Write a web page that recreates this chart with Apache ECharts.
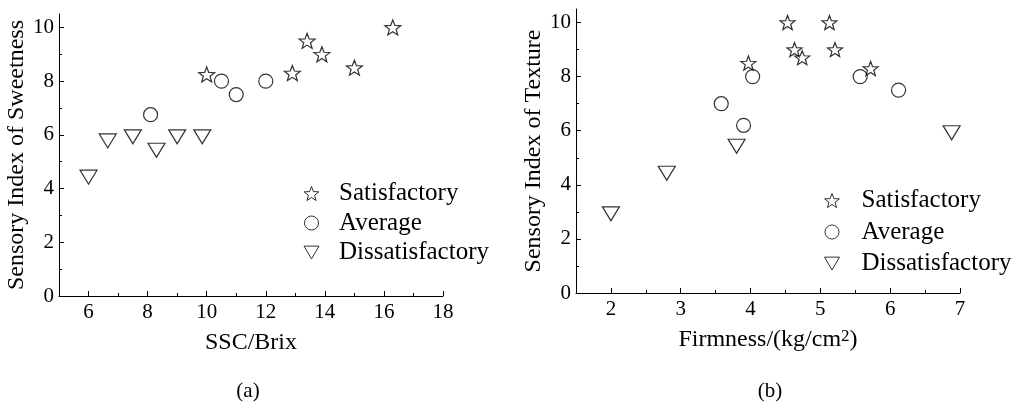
<!DOCTYPE html>
<html>
<head>
<meta charset="utf-8">
<script src="https://cdn.jsdelivr.net/npm/echarts@6/dist/echarts.min.js"></script>
<style>
  html, body { margin: 0; padding: 0; background: #fff; }
  #chart { width: 1016px; height: 402px; }
</style>
</head>
<body>
<div id="chart"></div>
<script>
// ---------- data: (a) Sweetness vs SSC ----------
const sweetSatX = [10.0, 12.9, 13.4, 13.9, 15.0, 16.3];
const sweetSatY = [8.25, 8.3, 9.5, 9.0, 8.5, 10.0];
const sweetAvgX = [8.1, 10.5, 11.0, 12.0];
const sweetAvgY = [6.75, 8.0, 7.5, 8.0];
const sweetDisX = [6.0, 6.65, 7.5, 8.3, 9.0, 9.85];
const sweetDisY = [4.5, 5.85, 6.0, 5.5, 6.0, 6.0];

// ---------- data: (b) Texture vs Firmness ----------
const texSatX = [3.97, 4.53, 4.63, 4.74, 5.13, 5.21, 5.72];
const texSatY = [8.5, 10.0, 9.0, 8.7, 10.0, 9.0, 8.3];
const texAvgX = [3.58, 3.9, 4.03, 5.57, 6.12];
const texAvgY = [7.0, 6.2, 8.0, 8.0, 7.5];
const texDisX = [2.0, 2.8, 3.8, 6.88];
const texDisY = [3.0, 4.5, 5.5, 6.0];

// ---------- tick labels ----------
const sweetXTicks = [6, 8, 10, 12, 14, 16, 18];
const sweetXMinor = [7, 9, 11, 13, 15, 17];
const texXTicks = [2, 3, 4, 5, 6, 7];
const texXMinor = [2.5, 3.5, 4.5, 5.5, 6.5];
const yTicks = [0, 2, 4, 6, 8, 10];
const yMinor = [1, 3, 5, 7, 9];

const seriesNames = ['Satisfactory', 'Average', 'Dissatisfactory'];
const panelLabels = ['(a)', '(b)'];
const xTitles = ['SSC/Brix', 'Firmness/(kg/cm{sup|2})'];
const yTitles = ['Sensory Index of Sweetness', 'Sensory Index of Texture'];

const zip = (xs, ys) => xs.map((x, i) => [x, ys[i]]);

const FONT = 'Liberation Serif';
const STAR = 'path://M50 0 L62.34 33.01 L97.55 34.55 L69.97 56.49 L79.39 90.45 L50 71 L20.61 90.45 L30.03 56.49 L2.45 34.55 L37.66 33.01 Z';
const TRI = 'path://M0 0 L20 0 L10 17 Z';

function mainX(grid, min, max, ticks, name) {
  return {
    type: 'value', gridIndex: grid, position: 'bottom', min: min, max: max,
    axisLine: { show: true, onZero: false, lineStyle: { color: '#000', width: 1 } },
    axisTick: { show: true, inside: true, length: 5, customValues: ticks, lineStyle: { color: '#000' } },
    axisLabel: { customValues: ticks, color: '#000', fontFamily: FONT, fontSize: 21, margin: 6 },
    splitLine: { show: false },
    name: name, nameLocation: 'middle', nameGap: 35,
    nameTextStyle: { color: '#000', fontFamily: FONT, fontSize: 24,
      rich: { sup: { fontFamily: FONT, fontSize: 17, verticalAlign: 'top', padding: [0, 0, 5, 0], color: '#000' } } }
  };
}
function minorX(grid, min, max, ticks) {
  return {
    type: 'value', gridIndex: grid, position: 'bottom', min: min, max: max,
    axisLine: { show: false, onZero: false },
    axisTick: { show: true, inside: true, length: 3, customValues: ticks, lineStyle: { color: '#000' } },
    axisLabel: { show: false }, splitLine: { show: false }
  };
}
function mainY(grid, name) {
  return {
    type: 'value', gridIndex: grid, position: 'left', min: 0, max: 10.5,
    axisLine: { show: true, onZero: false, lineStyle: { color: '#000', width: 1 } },
    axisTick: { show: true, inside: true, length: 5, customValues: yTicks, lineStyle: { color: '#000' } },
    axisLabel: { customValues: yTicks, color: '#000', fontFamily: FONT, fontSize: 21, margin: 5 },
    splitLine: { show: false },
    name: name, nameLocation: 'middle', nameGap: 27,
    nameTextStyle: { color: '#000', fontFamily: FONT, fontSize: 24 }
  };
}
function minorY(grid) {
  return {
    type: 'value', gridIndex: grid, position: 'left', min: 0, max: 10.5,
    axisLine: { show: false, onZero: false },
    axisTick: { show: true, inside: true, length: 3, customValues: yMinor, lineStyle: { color: '#000' } },
    axisLabel: { show: false }, splitLine: { show: false }
  };
}

const markerStyle = { color: 'rgba(0,0,0,0)', borderColor: '#000', borderWidth: 1.2 };
function scatter(name, data, xi, yi, symbol, size, offset) {
  return {
    type: 'scatter', name: name, data: data, xAxisIndex: xi, yAxisIndex: yi,
    symbol: symbol, symbolSize: size, symbolOffset: offset || [0, 0],
    itemStyle: markerStyle, emphasis: { disabled: true }, silent: true, z: 5
  };
}

const legendBase = {
  orient: 'vertical', itemWidth: 15, itemHeight: 14, itemGap: 5, padding: 0,
  selectedMode: false, data: seriesNames,
  itemStyle: { color: 'rgba(0,0,0,0)', borderColor: '#000', borderWidth: 1 },
  textStyle: { color: '#000', fontFamily: FONT, fontSize: 25 }
};

const option = {
  animation: false,
  backgroundColor: '#fff',
  grid: [
    { left: 59, top: 14, width: 384, height: 282 },
    { left: 576, top: 9, width: 384, height: 284 }
  ],
  xAxis: [
    mainX(0, 5, 18, sweetXTicks, xTitles[0]),
    minorX(0, 5, 18, sweetXMinor),
    mainX(1, 1.5, 7, texXTicks, xTitles[1]),
    minorX(1, 1.5, 7, texXMinor)
  ],
  yAxis: [
    mainY(0, yTitles[0]),
    minorY(0),
    mainY(1, yTitles[1]),
    minorY(1)
  ],
  legend: [
    Object.assign({}, legendBase, { left: 303.5, top: 181, itemGap: 4.5,
      textStyle: Object.assign({}, legendBase.textStyle, { padding: [0, 0, 0, 15] }) }),
    Object.assign({}, legendBase, { left: 824, top: 188, itemGap: 6.5,
      textStyle: Object.assign({}, legendBase.textStyle, { padding: [0, 0, 0, 17] }) })
  ],
  series: [
    scatter(seriesNames[0], zip(sweetSatX, sweetSatY), 0, 0, STAR, [16, 15]),
    scatter(seriesNames[1], zip(sweetAvgX, sweetAvgY), 0, 0, 'circle', 14),
    scatter(seriesNames[2], zip(sweetDisX, sweetDisY), 0, 0, TRI, [17, 14], [0, 2]),
    scatter(seriesNames[0], zip(texSatX, texSatY), 2, 2, STAR, [15, 14]),
    scatter(seriesNames[1], zip(texAvgX, texAvgY), 2, 2, 'circle', 14),
    scatter(seriesNames[2], zip(texDisX, texDisY), 2, 2, TRI, [17, 14], [0, 2])
  ],
  graphic: [
    { type: 'text', x: 248, y: 391, silent: true,
      style: { text: panelLabels[0], fill: '#000', font: '21px "Liberation Serif"', align: 'center', verticalAlign: 'middle' } },
    { type: 'text', x: 770, y: 391, silent: true,
      style: { text: panelLabels[1], fill: '#000', font: '21px "Liberation Serif"', align: 'center', verticalAlign: 'middle' } }
  ]
};

const chart = echarts.init(document.getElementById('chart'), null, { renderer: 'canvas' });
chart.setOption(option);
</script>
</body>
</html>
